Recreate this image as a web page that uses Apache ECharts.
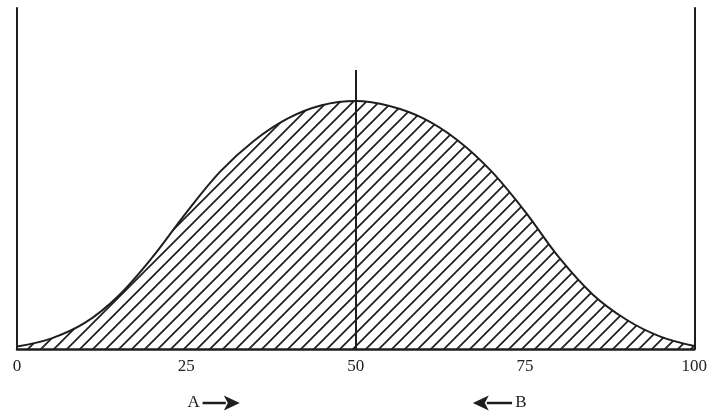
<!DOCTYPE html>
<html>
<head>
<meta charset="utf-8">
<script src="https://cdn.jsdelivr.net/npm/echarts@6/dist/echarts.min.js"></script>
<style>
html,body{margin:0;padding:0;background:#fff;}
#c{width:710px;height:414px;}
</style>
</head>
<body>
<div id="c"></div>
<script>
// Data
const xValues = [0,5,10,15,20,25,30,35,40,45,50,55,60,65,70,75,80,85,90,95,100];
const yValues = [1.0,4.2,10.5,21.5,37,55,71.5,84,93,98.3,100,98,93,84.3,71.8,55.5,37,22,11.8,5,1.2];
const xTicks = [0,25,50,75,100];
const centerLineX = 50;
const centerLineTop = 112.5;
// annotation positions (data x)
const annA = {label:'A', labelX:26.1, from:27.4, to:32.9};
const annB = {label:'B', labelX:74.4, from:73.1, to:67.3};

const ink = '#1e1e1e';

// hatch pattern
const tile = document.createElement('canvas');
const T = 13;
tile.width = T; tile.height = T;
const g = tile.getContext('2d');
g.strokeStyle = ink; g.lineWidth = 1.7; g.lineCap = 'square';
g.beginPath();
g.moveTo(0,T); g.lineTo(T,0);
g.moveTo(-2,2); g.lineTo(2,-2);
g.moveTo(T-2,T+2); g.lineTo(T+2,T-2);
g.stroke();

const chart = echarts.init(document.getElementById('c'), null, {renderer:'canvas'});
const data = xValues.map((x,i)=>[x,yValues[i]]);
const serif = '"Liberation Serif", "DejaVu Serif", serif';

chart.setOption({
  animation:false,
  backgroundColor:'#fff',
  grid:{left:17, right:15.5, top:8, bottom:65},
  xAxis:{
    type:'value', min:0, max:100, interval:25,
    axisLine:{show:true, onZero:false, lineStyle:{color:ink, width:2.5}},
    axisTick:{show:false}, splitLine:{show:false},
    axisLabel:{margin:9, color:'#222', fontFamily:serif, fontSize:17,
      formatter:v=> xTicks.includes(v) ? String(v) : ''}
  },
  yAxis:[
    {type:'value', min:0, max:137.5, position:'left',
     axisLine:{show:true, lineStyle:{color:ink, width:2}},
     axisTick:{show:false}, axisLabel:{show:false}, splitLine:{show:false}},
    {type:'value', min:0, max:137.5, position:'right',
     axisLine:{show:true, lineStyle:{color:ink, width:2}},
     axisTick:{show:false}, axisLabel:{show:false}, splitLine:{show:false}}
  ],
  series:[{
    type:'line', data:data, smooth:0.35, symbol:'none',
    lineStyle:{color:ink, width:2},
    areaStyle:{color:{image:tile, repeat:'repeat'}, opacity:1},
    markLine:{
      silent:true, symbol:['none','none'], label:{show:false},
      lineStyle:{color:ink, width:2, type:'solid'},
      data:[[{coord:[centerLineX,0]},{coord:[centerLineX,centerLineTop]}]]
    },
    z:2
  }]
});

function px(x){ return chart.convertToPixel({xAxisIndex:0}, x); }
const yAnn = 403;
function arrow(from, to){
  const x1 = px(from), x2 = px(to);
  const dir = Math.sign(x2-x1);
  const headLen = 16, headHalf = 7.5;
  const baseX = x2 - dir*headLen;
  return [
    {type:'line', shape:{x1:x1, y1:yAnn, x2:baseX+dir*2, y2:yAnn}, style:{stroke:ink, lineWidth:2.5}},
    {type:'polygon', shape:{points:[[x2,yAnn],[baseX,yAnn-headHalf],[baseX+dir*4,yAnn],[baseX,yAnn+headHalf]]}, style:{fill:ink}}
  ];
}
const graphics = [];
[annA, annB].forEach(a=>{
  graphics.push({type:'text', x:px(a.labelX), y:yAnn, style:{text:a.label, font:'17px ' + serif, fill:'#222', align:'center', verticalAlign:'middle'}});
  arrow(a.from, a.to).forEach(e=>graphics.push(e));
});
chart.setOption({graphic:graphics});
</script>
</body>
</html>
